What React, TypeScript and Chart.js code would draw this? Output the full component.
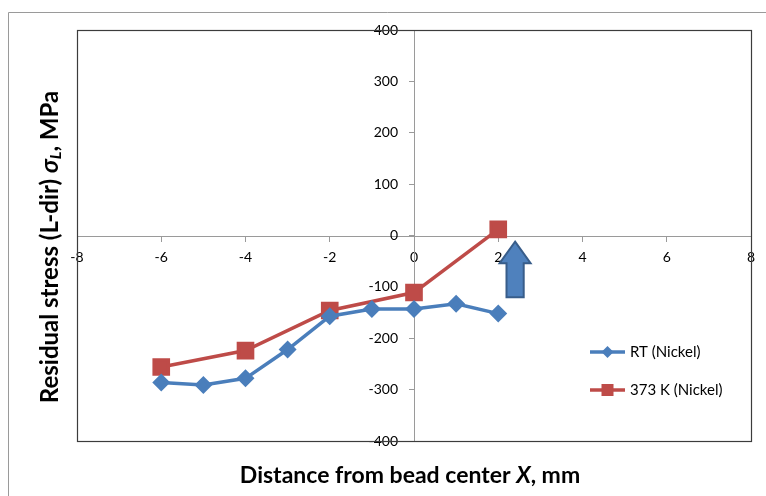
import React, { useEffect, useRef } from "react";
import { Chart, registerables } from "chart.js";

Chart.register(...registerables);

const rtX = [-6, -5, -4, -3, -2, -1, 0, 1, 2];
const rtY = [-286, -291, -278, -222, -157, -143, -143, -133, -152];
const k373X = [-6, -4, -2, 0, 2];
const k373Y = [-256, -224, -146, -111, 12];
const xTicks = [-8, -6, -4, -2, 0, 2, 4, 6, 8];
const yTicks = [-400, -300, -200, -100, 0, 100, 200, 300, 400];
const seriesNames = ["RT (Nickel)", "373 K (Nickel)"];
const arrowMark = { x: 2.4, tip: -12, headBase: -54, base: -120 };

const BLUE = "#4A7EBB";
const RED = "#BE4B48";
const FONT = "Lato, 'Open Sans', sans-serif";

const decoPlugin = {
  id: "deco",
  beforeDraw(chart: any) {
    const ctx = chart.ctx;
    ctx.save();
    ctx.fillStyle = "#ffffff";
    ctx.fillRect(0, 0, chart.width, chart.height);
    ctx.strokeStyle = "#9a9a9a";
    ctx.lineWidth = 1;
    ctx.beginPath();
    ctx.moveTo(8.5, chart.height + 5);
    ctx.lineTo(8.5, 12.5);
    ctx.lineTo(chart.width + 5, 12.5);
    ctx.stroke();
    ctx.restore();
  },
  afterDatasetsDraw(chart: any) {
    const ctx = chart.ctx;
    const { left, right, top, bottom } = chart.chartArea;
    const xs = chart.scales.x;
    const ys = chart.scales.y;
    ctx.save();
    // plot border
    ctx.strokeStyle = "#3c3c3c";
    ctx.lineWidth = 1.2;
    ctx.strokeRect(Math.round(left) + 0.5, Math.round(top) + 0.5, Math.round(right - left), Math.round(bottom - top));

    // arrow annotation
    const cx = xs.getPixelForValue(arrowMark.x);
    const tipY = ys.getPixelForValue(arrowMark.tip);
    const hb = ys.getPixelForValue(arrowMark.headBase);
    const by = ys.getPixelForValue(arrowMark.base);
    const hw = 15.5;
    const sw = 8.6;
    ctx.beginPath();
    ctx.moveTo(cx, tipY);
    ctx.lineTo(cx + hw, hb);
    ctx.lineTo(cx + sw, hb);
    ctx.lineTo(cx + sw, by);
    ctx.lineTo(cx - sw, by);
    ctx.lineTo(cx - sw, hb);
    ctx.lineTo(cx - hw, hb);
    ctx.closePath();
    ctx.fillStyle = "#4F81BD";
    ctx.fill();
    ctx.strokeStyle = "#385D8A";
    ctx.lineWidth = 2;
    ctx.stroke();

    // legend
    const lx = right - 161;
    const rows = [bottom - 89, bottom - 51];
    chart.data.datasets.forEach((ds: any, i: number) => {
      const y = rows[i];
      ctx.strokeStyle = ds.borderColor;
      ctx.lineWidth = ds.borderWidth;
      ctx.beginPath();
      ctx.moveTo(lx, y);
      ctx.lineTo(lx + 35, y);
      ctx.stroke();
      ctx.fillStyle = ds.pointBackgroundColor;
      if (ds.pointStyle === "rectRot") {
        const r = 6;
        ctx.beginPath();
        ctx.moveTo(lx + 17.5, y - r);
        ctx.lineTo(lx + 17.5 + r, y);
        ctx.lineTo(lx + 17.5, y + r);
        ctx.lineTo(lx + 17.5 - r, y);
        ctx.closePath();
        ctx.fill();
      } else {
        ctx.fillRect(lx + 17.5 - 6, y - 6, 12, 12);
      }
      ctx.fillStyle = "#000";
      ctx.font = `15px ${FONT}`;
      ctx.textAlign = "left";
      ctx.textBaseline = "middle";
      ctx.fillText(ds.label, lx + 40, y);
    });

    // axis titles
    ctx.fillStyle = "#000";
    ctx.textBaseline = "middle";
    const xParts = [
      { t: "Distance from bead center ", f: `bold 23px ${FONT}` },
      { t: "X", f: `italic bold 23px ${FONT}` },
      { t: ", mm", f: `bold 23px ${FONT}` },
    ];
    let total = 0;
    xParts.forEach((p) => { ctx.font = p.f; total += ctx.measureText(p.t).width; });
    let px = (left + right) / 2 - total / 2 - 4;
    ctx.textAlign = "left";
    xParts.forEach((p) => { ctx.font = p.f; ctx.fillText(p.t, px, 476); px += ctx.measureText(p.t).width; });

    const yParts = [
      { t: "Residual stress (L-dir) ", f: `bold 24px ${FONT}`, dy: 0 },
      { t: "σ", f: `italic bold 24px ${FONT}`, dy: 0 },
      { t: "L", f: `italic bold 16px ${FONT}`, dy: 6 },
      { t: ", MPa", f: `bold 24px ${FONT}`, dy: 0 },
    ];
    total = 0;
    yParts.forEach((p) => { ctx.font = p.f; total += ctx.measureText(p.t).width; });
    ctx.translate(50, 247);
    ctx.rotate(-Math.PI / 2);
    px = -total / 2;
    yParts.forEach((p) => { ctx.font = p.f; ctx.fillText(p.t, px, p.dy); px += ctx.measureText(p.t).width; });
    ctx.restore();
  },
};

export default function App() {
  const ref = useRef<HTMLCanvasElement | null>(null);
  useEffect(() => {
    if (!ref.current) return;
    const chart = new Chart(ref.current, {
      type: "line",
      data: {
        datasets: [
          {
            label: seriesNames[0],
            data: rtX.map((x, i) => ({ x, y: rtY[i] })),
            borderColor: BLUE,
            backgroundColor: BLUE,
            pointBackgroundColor: BLUE,
            pointBorderColor: BLUE,
            pointStyle: "rectRot",
            pointRadius: 6.5,
            borderWidth: 3.5,
            tension: 0,
          },
          {
            label: seriesNames[1],
            data: k373X.map((x, i) => ({ x, y: k373Y[i] })),
            borderColor: RED,
            backgroundColor: RED,
            pointBackgroundColor: RED,
            pointBorderColor: RED,
            pointStyle: "rect",
            pointRadius: 10,
            borderWidth: 3.5,
            tension: 0,
          },
        ],
      },
      options: {
        animation: false,
        responsive: false,
        layout: { padding: { left: 77, top: 30, right: 15, bottom: 55 } },
        plugins: { legend: { display: false }, tooltip: { enabled: false }, title: { display: false } },
        scales: {
          x: {
            type: "linear",
            min: -8,
            max: 8,
            position: "center",
            afterBuildTicks: (s: any) => { s.ticks = xTicks.map((v) => ({ value: v })); },
            ticks: { color: "#000", font: { family: FONT, size: 14 }, padding: 9, maxRotation: 0 },
            grid: { drawOnChartArea: false, drawTicks: true, tickLength: 5, color: "#9a9a9a" },
            border: { color: "#9a9a9a", width: 1 },
          },
          y: {
            type: "linear",
            min: -400,
            max: 400,
            position: "center",
            afterBuildTicks: (s: any) => { s.ticks = yTicks.map((v) => ({ value: v })); },
            ticks: { color: "#000", font: { family: FONT, size: 14 }, padding: 11 },
            grid: { drawOnChartArea: false, drawTicks: true, tickLength: 5, color: "#9a9a9a" },
            border: { color: "#9a9a9a", width: 1 },
          },
        },
      },
      plugins: [decoPlugin],
    });
    return () => chart.destroy();
  }, []);
  return (
    <div style={{ position: "fixed", left: 0, top: 0, width: 766, height: 496 }}>
      <canvas ref={ref} width={766} height={496} style={{ width: 766, height: 496, display: "block" }} />
    </div>
  );
}
